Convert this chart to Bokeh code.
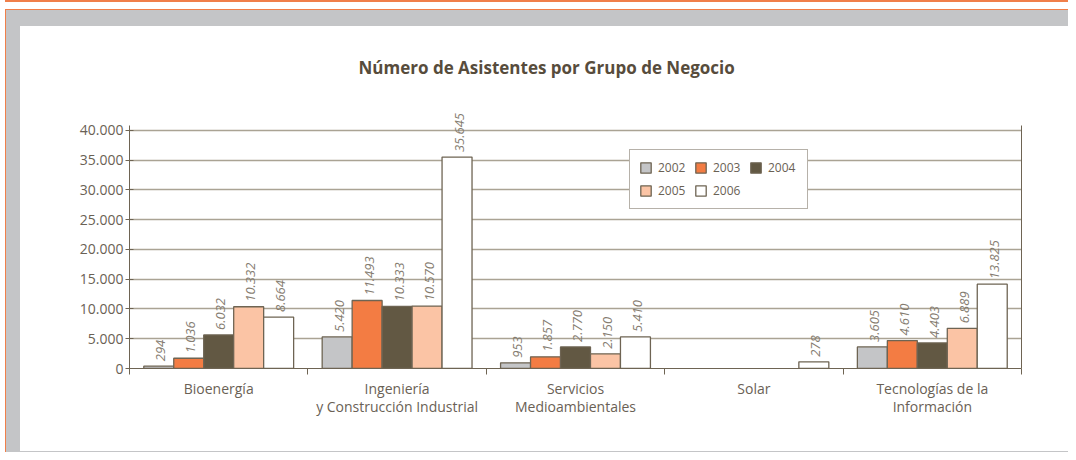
import math
from bokeh.plotting import figure
from bokeh.layouts import column
from bokeh.models import (ColumnDataSource, FixedTicker, LinearAxis, Range1d, Legend,
                          LegendItem, LabelSet)
from bokeh.core.properties import value
from bokeh.embed import file_html
from bokeh.resources import INLINE

# ---------------- data ----------------
title_text = "Número de Asistentes por Grupo de Negocio"
categories = ["Bioenergía", "Ingeniería\ny Construcción Industrial",
              "Servicios\nMedioambientales", "Solar", "Tecnologías de la\nInformación"]
years = ["2002", "2003", "2004", "2005", "2006"]

# bar heights as drawn
bars_2002 = [385, 5300, 950, 0, 3630]
bars_2003 = [1720, 11430, 1960, 0, 4690]
bars_2004 = [5640, 10430, 3630, 0, 4300]
bars_2005 = [10380, 10490, 2460, 0, 6750]
bars_2006 = [8650, 35530, 5300, 1120, 14170]

# printed value labels
labels_2002 = ["294", "5.420", "953", "", "3.605"]
labels_2003 = ["1.036", "11.493", "1.857", "", "4.610"]
labels_2004 = ["6.032", "10.333", "2.770", "", "4.403"]
labels_2005 = ["10.332", "10.570", "2.150", "", "6.889"]
labels_2006 = ["8.664", "35.645", "5.410", "278", "13.825"]

y_ticks = [0, 5000, 10000, 15000, 20000, 25000, 30000, 35000, 40000]
y_tick_labels = ["0", "5.000", "10.000", "15.000", "20.000", "25.000", "30.000", "35.000", "40.000"]

series_bars = [bars_2002, bars_2003, bars_2004, bars_2005, bars_2006]
series_labels = [labels_2002, labels_2003, labels_2004, labels_2005, labels_2006]
colors = ["#c4c5c7", "#f37c43", "#625843", "#fbc4a5", "#ffffff"]

# ---------------- styling ----------------
FONT = "Open Sans"
TEXT_C = "#6a6155"
LINE_C = "#6e6453"
GRID_C = "#aaa394"
ORANGE = "#f07f4a"
GRAY = "#c4c5c7"

p = figure(width=1048, height=425, output_backend="svg", toolbar_location=None,
           x_range=Range1d(0, len(categories)), y_range=Range1d(0, 44200),
           min_border_left=109, min_border_right=47, min_border_top=78, min_border_bottom=83,
           margin=(26, 0, 1, 20))
p.border_fill_color = "white"
p.background_fill_color = "white"
p.outline_line_color = None

# title
p.title.text = title_text
p.title.align = "left"
p.title.offset = 229
p.title.text_font = FONT
p.title.text_font_size = "17px"
p.title.text_font_style = "bold"
p.title.text_color = "#574c3c"
p.title.standoff = 54

# grid
p.xgrid.visible = False
p.ygrid.ticker = FixedTicker(ticks=y_ticks)
p.ygrid.grid_line_color = GRID_C
p.ygrid.grid_line_width = 1.5

# y axis
ya = p.yaxis[0]
ya.ticker = FixedTicker(ticks=y_ticks)
ya.bounds = (0, 40800)
ya.major_label_overrides = {t: l for t, l in zip(y_ticks, y_tick_labels)}
ya.major_tick_in = 4
ya.major_tick_out = 4
ya.minor_tick_in = 0
ya.minor_tick_out = 0
ya.axis_line_color = LINE_C
ya.major_tick_line_color = LINE_C
ya.major_label_text_font = FONT
ya.major_label_text_font_size = "14px"
ya.major_label_text_color = TEXT_C
ya.major_label_standoff = 2

# x axis: labels at centres, ticks at boundaries
xa = p.xaxis[0]
centers = [i + 0.5 for i in range(len(categories))]
xa.ticker = FixedTicker(ticks=centers, minor_ticks=list(range(len(categories) + 1)))
xa.major_label_overrides = {c: lab for c, lab in zip(centers, categories)}
xa.major_tick_in = 0
xa.major_tick_out = 0
xa.minor_tick_in = 0
xa.minor_tick_out = 6
xa.minor_tick_line_color = LINE_C
xa.axis_line_color = LINE_C
xa.major_label_text_font = FONT
xa.major_label_text_font_size = "14px"
xa.major_label_text_color = TEXT_C
xa.major_label_text_line_height = 0.95
xa.major_label_standoff = 4

# right border line
ra = LinearAxis(ticker=FixedTicker(ticks=[]), axis_line_color=LINE_C, bounds=(0, 40800),
                major_tick_in=0, major_tick_out=0, minor_tick_in=0, minor_tick_out=0,
                major_label_text_alpha=0)
p.add_layout(ra, "right")

# bars
bw = 0.168
items = []
for i, (yr, vals, labs, col) in enumerate(zip(years, series_bars, series_labels, colors)):
    xs = [k + 0.5 + (i - 2) * bw for k in range(len(categories))]
    keep = [k for k, v in enumerate(vals) if v > 0]
    src = ColumnDataSource(dict(x=[xs[k] for k in keep], top=[vals[k] for k in keep],
                                label=[labs[k] for k in keep]))
    r = p.vbar(x="x", top="top", width=bw, source=src, fill_color=col,
               line_color=LINE_C, line_width=1.3)
    items.append(LegendItem(label=yr, renderers=[r]))
    p.add_layout(LabelSet(x="x", y="top", text="label", source=src, angle=math.pi / 2,
                          text_align="left", text_baseline="middle", y_offset=5, x_offset=2,
                          text_font=value(FONT), text_font_size="13px",
                          text_font_style="italic", text_color="#857c70"))

legend = Legend(items=items, location=(500, 159), orientation="horizontal", ncols=3,
                border_line_color=LINE_C, border_line_width=1, background_fill_color="white",
                background_fill_alpha=1, padding=9, spacing=6, margin=0,
                glyph_width=13, glyph_height=13, label_height=13, label_width=30,
                label_standoff=6,
                label_text_font=FONT, label_text_font_size="12px", label_text_color=TEXT_C)
p.add_layout(legend)

bg = ("linear-gradient(%s,%s) 5px 0px / 100%% 2px no-repeat, "
      "linear-gradient(%s,%s) 5px 9px / 100%% 1px no-repeat, "
      "linear-gradient(%s,%s) 5px 9px / 1px 100%% no-repeat, "
      "linear-gradient(white,white) 20px 26px / 1048px 425px no-repeat, "
      "linear-gradient(%s,%s) 6px 10px / 100%% 100%% no-repeat, white") % (
          ORANGE, ORANGE, ORANGE, ORANGE, ORANGE, ORANGE, GRAY, GRAY)
layout = column(p, styles={"background": bg})

open("out.html", "w").write(file_html(layout, INLINE))
